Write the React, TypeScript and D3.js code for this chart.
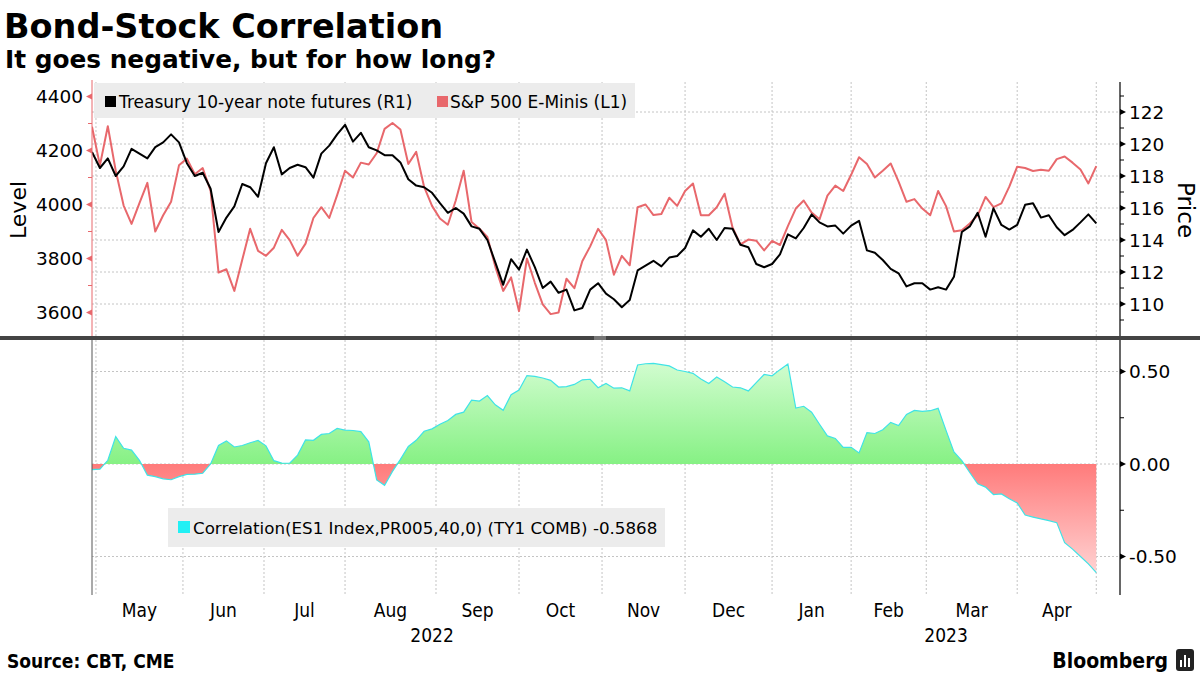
import React from "react";
import * as d3 from "d3";

// ---- data (one value every 2 trading days, starting end of April 2022) ----
const dayStep = 2;

const spxLevels = [
  4288, 4145, 4290, 4125, 3996, 3928, 4005, 4080, 3900, 3960,
  4010, 4145, 4170, 4112, 4135, 4050, 3748, 3760, 3680, 3795,
  3910, 3828, 3810, 3840, 3906, 3868, 3810, 3855, 3950, 3990,
  3950, 4035, 4125, 4100, 4155, 4148, 4190, 4280, 4302, 4278,
  4150, 4195, 4065, 3995, 3948, 3925, 4015, 4125, 3935, 3910,
  3880, 3770, 3680, 3730, 3605, 3800, 3710, 3630, 3594, 3600,
  3725, 3690, 3790, 3845, 3910, 3868, 3740, 3810, 3775, 3990,
  4000, 3961, 3965, 4025, 3995, 4050, 4078, 3960, 3960, 3990,
  4040, 3915, 3852, 3870, 3866, 3830, 3865, 3850, 3920, 3985,
  4015, 3970, 3945, 4033, 4070, 4050, 4110, 4175, 4150, 4100,
  4125, 4152, 4085, 4010, 4020, 3985, 3960, 4050, 3994, 3900,
  3905, 3930, 3960, 4028, 3990, 4004, 4066, 4140, 4135, 4124,
  4129, 4125, 4168, 4178, 4155, 4130, 4078, 4142,
];

const tyPrices = [
  119.5, 118.5, 119.1, 118.0, 118.6, 119.7, 119.4, 119.1, 119.8, 120.1,
  120.6, 120.1, 118.8, 118.0, 118.2, 117.2, 114.5, 115.4, 116.1, 117.5,
  117.3, 116.7, 118.8, 119.8, 118.1, 118.5, 118.7, 118.55, 117.9, 119.4,
  119.9, 120.6, 121.2, 120.15, 120.7, 119.8, 119.6, 119.3, 119.3, 118.85,
  117.8, 117.4, 117.3, 116.95, 116.3, 115.7, 116.0, 115.65, 114.85, 114.7,
  114.0, 112.6, 111.2, 112.8, 112.15, 113.4, 112.3, 111.0, 111.4, 110.7,
  110.9, 109.6, 109.75, 110.9, 111.3, 110.65, 110.3, 109.8, 110.25, 112.1,
  112.4, 112.7, 112.35, 112.9, 113.0, 113.5, 114.6, 114.2, 114.7, 114.0,
  114.75, 114.7, 113.7, 113.55, 112.5, 112.3, 112.5, 113.1, 114.35, 114.1,
  114.75, 115.6, 115.1, 114.85, 114.9, 114.4, 114.9, 115.2, 113.35, 113.2,
  112.75, 112.2, 111.92, 111.1, 111.3, 111.3, 110.9, 111.05, 110.9, 111.7,
  114.5, 114.85, 115.7, 114.2, 115.98, 114.94, 114.65, 114.95, 116.2, 116.3,
  115.4, 115.55, 114.8, 114.3, 114.63, 115.1, 115.6, 115.04,
];

const correlation = [
  -0.03, -0.028, 0.02, 0.148, 0.085, 0.075, 0.02, -0.06, -0.068, -0.08,
  -0.085, -0.068, -0.056, -0.055, -0.05, 0.0, 0.1, 0.125, 0.092, 0.1,
  0.115, 0.127, 0.098, 0.018, 0.005, 0.004, 0.048, 0.13, 0.128, 0.16,
  0.165, 0.192, 0.183, 0.181, 0.175, 0.12, -0.086, -0.115, -0.04, 0.025,
  0.095, 0.128, 0.177, 0.19, 0.215, 0.235, 0.268, 0.28, 0.345, 0.34,
  0.37, 0.32, 0.29, 0.375, 0.4, 0.478, 0.474, 0.465, 0.452, 0.416,
  0.418, 0.43, 0.455, 0.458, 0.412, 0.435, 0.41, 0.412, 0.395, 0.535,
  0.542, 0.544, 0.537, 0.53, 0.508, 0.5, 0.49, 0.46, 0.435, 0.47,
  0.444, 0.416, 0.412, 0.395, 0.44, 0.484, 0.477, 0.51, 0.54, 0.302,
  0.312, 0.28, 0.215, 0.152, 0.138, 0.09, 0.09, 0.06, 0.17, 0.165,
  0.185, 0.225, 0.208, 0.268, 0.29, 0.285, 0.288, 0.301, 0.182, 0.065,
  0.018, -0.046, -0.107, -0.125, -0.165, -0.162, -0.188, -0.21, -0.276, -0.287,
  -0.297, -0.306, -0.317, -0.425, -0.46, -0.5, -0.54, -0.5868,
];

const monthLabels = ["May", "Jun", "Jul", "Aug", "Sep", "Oct", "Nov", "Dec", "Jan", "Feb", "Mar", "Apr"];
const monthStartDays = [1, 23, 43.5, 64, 87, 108, 129, 150, 172, 192, 211, 234, 254];
const yearLabels = ["2022", "2023"];
const yearSpans = [[0, 172], [172, 260]];

const levelTicks = [3600, 3800, 4000, 4200, 4400];
const levelMinor = [3500, 3700, 3900, 4100, 4300];
const priceTicks = [110, 112, 114, 116, 118, 120, 122];
const priceMinor = [109, 111, 113, 115, 117, 119, 121, 123];
const corrTicks = [-0.5, 0, 0.5];
const corrMinor = [-0.25, 0.25];

const legendTop = ["Treasury 10-year note futures (R1)", "S&P 500 E-Minis (L1)"];
const legendBottom = "Correlation(ES1 Index,PR005,40,0) (TY1 COMB) -0.5868";

const FONT = "'DejaVu Sans', Verdana, sans-serif";
const COND = "'DejaVu Sans Condensed', 'DejaVu Sans', sans-serif";
const RED = "#e8686c";

export default function App() {
  const W = 1200;
  const H = 675;
  const L = 92;
  const R = 1120;
  const topT = 82;
  const topB = 336;
  const botT = 340;
  const botB = 595;

  const x = d3.scaleLinear().domain([0, 260]).range([L, R]);
  const yL = d3.scaleLinear().domain([3600, 4400]).range([312.5, 96.5]);
  const yR = d3.scaleLinear().domain([110, 122]).range([304, 112]);
  const yC = d3.scaleLinear().domain([-0.5, 0.5]).range([556.5, 371.5]);

  const spxLine = d3.line<number>().x((_, i) => x(i * dayStep)).y((d) => yL(d))(spxLevels) || "";
  const tyLine = d3.line<number>().x((_, i) => x(i * dayStep)).y((d) => yR(d))(tyPrices) || "";
  const corrLine = d3.line<number>().x((_, i) => x(i * dayStep)).y((d) => yC(d))(correlation) || "";
  const corrArea =
    d3.area<number>().x((_, i) => x(i * dayStep)).y0(yC(0)).y1((d) => yC(d))(correlation) || "";

  const gridDash = "2,2";
  const gridColor = "#c4c4c4";

  return (
    <svg
      width={W}
      height={H}
      viewBox={`0 0 ${W} ${H}`}
      style={{ position: "absolute", left: 0, top: 0, background: "#fff" }}
      fontFamily={FONT}
    >
      <defs>
        <clipPath id="topClip">
          <rect x={L} y={topT} width={R - L} height={topB - topT} />
        </clipPath>
        <clipPath id="posClip">
          <rect x={L} y={botT} width={R - L} height={yC(0) - botT} />
        </clipPath>
        <clipPath id="negClip">
          <rect x={L} y={yC(0)} width={R - L} height={botB - yC(0)} />
        </clipPath>
        <linearGradient id="greenGrad" gradientUnits="userSpaceOnUse" x1="0" x2="0" y1={yC(0.58)} y2={yC(0)}>
          <stop offset="0" stopColor="#d6fdd4" />
          <stop offset="1" stopColor="#86f184" />
        </linearGradient>
        <linearGradient id="redGrad" gradientUnits="userSpaceOnUse" x1="0" x2="0" y1={yC(0)} y2={yC(-0.6)}>
          <stop offset="0" stopColor="#ff7b7b" />
          <stop offset="1" stopColor="#ffd4d4" />
        </linearGradient>
      </defs>

      {/* Title */}
      <text x={4} y={38} fontSize={33.5} fontWeight="bold" fill="#000">
        Bond-Stock Correlation
      </text>
      <text x={5} y={68} fontSize={24.8} fontWeight="bold" fill="#000">
        It goes negative, but for how long?
      </text>

      {/* vertical grid lines */}
      {monthStartDays.map((d, i) => (
        <g key={"vg" + i}>
          <line x1={x(d)} x2={x(d)} y1={topT} y2={topB} stroke={gridColor} strokeDasharray={gridDash} />
          <line x1={x(d)} x2={x(d)} y1={botT} y2={botB} stroke={gridColor} strokeDasharray={gridDash} />
        </g>
      ))}
      {/* horizontal grid - top */}
      {priceTicks.map((t) => (
        <line key={"hg" + t} x1={L} x2={R} y1={yR(t)} y2={yR(t)} stroke={gridColor} strokeDasharray={gridDash} />
      ))}
      {/* horizontal grid - bottom */}
      {corrTicks.map((t) => (
        <line key={"cg" + t} x1={L} x2={R} y1={yC(t)} y2={yC(t)} stroke={gridColor} strokeDasharray={gridDash} />
      ))}

      {/* top legend */}
      <rect x={94} y={83} width={541} height={35} fill="#ececec" />
      <rect x={105} y={96} width={11} height={11} fill="#000" />
      <text x={119} y={107.5} fontSize={17} fill="#000">
        {legendTop[0]}
      </text>
      <rect x={437} y={96} width={11} height={11} fill={RED} />
      <text x={450} y={107.5} fontSize={17} fill="#000">
        {legendTop[1]}
      </text>

      {/* top lines */}
      <g clipPath="url(#topClip)">
        <path d={spxLine} fill="none" stroke={RED} strokeWidth={2} strokeLinejoin="round" />
        <path d={tyLine} fill="none" stroke="#000" strokeWidth={2} strokeLinejoin="round" />
      </g>

      {/* correlation area */}
      <path d={corrArea} fill="url(#greenGrad)" clipPath="url(#posClip)" />
      <path d={corrArea} fill="url(#redGrad)" clipPath="url(#negClip)" />
      <path d={corrLine} fill="none" stroke="#3fe3e6" strokeWidth={1.2} />

      {/* bottom legend */}
      <rect x={168} y={508} width={497} height={39} fill="#ececec" />
      <rect x={178} y={521} width={12} height={12} fill="#22f0f4" />
      <text x={193} y={534} fontSize={16.7} fill="#000">
        {legendBottom}
      </text>

      {/* left axis (top panel) */}
      <line x1={L} x2={L} y1={topT - 2} y2={topB} stroke={RED} strokeWidth={1} />
      {levelTicks.map((t) => (
        <g key={"lt" + t}>
          <path d={`M${L},${yL(t) - 3}L${L - 6},${yL(t)}L${L},${yL(t) + 3}Z`} fill={RED} />
          <text x={83} y={yL(t)} dy="0.36em" textAnchor="end" fontSize={18.5} fill="#000">
            {t}
          </text>
        </g>
      ))}
      {levelMinor.map((t) => (
        <line key={"lm" + t} x1={L - 4} x2={L} y1={yL(t)} y2={yL(t)} stroke={RED} />
      ))}
      <text transform={`translate(26,${210}) rotate(-90)`} textAnchor="middle" fontSize={22} fill="#000">
        Level
      </text>

      {/* right axis (top panel) */}
      <line x1={R} x2={R} y1={topT} y2={topB} stroke="#000" strokeWidth={1.2} />
      {priceTicks.map((t) => (
        <g key={"rt" + t}>
          <path d={`M${R},${yR(t) - 3}L${R + 6},${yR(t)}L${R},${yR(t) + 3}Z`} fill="#000" />
          <text x={1129} y={yR(t)} dy="0.36em" fontSize={18.5} fill="#000">
            {t}
          </text>
        </g>
      ))}
      {priceMinor.map((t) => (
        <line key={"rm" + t} x1={R} x2={R + 4} y1={yR(t)} y2={yR(t)} stroke="#000" />
      ))}
      <text transform={`translate(1178,${210}) rotate(90)`} textAnchor="middle" fontSize={23} fill="#000">
        Price
      </text>

      {/* bottom panel axes */}
      <line x1={L} x2={L} y1={botT} y2={botB} stroke="#555" strokeWidth={1} />
      <line x1={R} x2={R} y1={botT} y2={botB} stroke="#000" strokeWidth={1.2} />
      {corrTicks.map((t) => (
        <g key={"ct" + t}>
          <path d={`M${R},${yC(t) - 3}L${R + 6},${yC(t)}L${R},${yC(t) + 3}Z`} fill="#000" />
          <text x={1129} y={yC(t)} dy="0.36em" fontSize={18.5} fill="#000">
            {t === 0 ? "0.00" : t > 0 ? t.toFixed(2) : "-" + Math.abs(t).toFixed(2)}
          </text>
        </g>
      ))}
      {corrMinor.map((t) => (
        <line key={"cm" + t} x1={R} x2={R + 4} y1={yC(t)} y2={yC(t)} stroke="#000" />
      ))}

      {/* panel separator */}
      <rect x={0} y={336} width={W} height={4} fill="#444" />
      <line x1={594} x2={606} y1={337} y2={337} stroke="#aaa" />
      <line x1={594} x2={606} y1={339} y2={339} stroke="#aaa" />

      {/* x axis labels */}
      {monthLabels.map((m, i) => (
        <text
          key={"ml" + m}
          x={(x(monthStartDays[i]) + x(monthStartDays[i + 1])) / 2}
          y={617}
          textAnchor="middle"
          fontSize={19}
          fontFamily={COND}
          fill="#000"
        >
          {m}
        </text>
      ))}
      {yearLabels.map((yl, i) => (
        <text
          key={"yl" + yl}
          x={(x(yearSpans[i][0]) + x(yearSpans[i][1])) / 2}
          y={642}
          textAnchor="middle"
          fontSize={19}
          fontFamily={COND}
          fill="#000"
        >
          {yl}
        </text>
      ))}

      {/* footer */}
      <text x={7} y={668} fontSize={19} fontWeight="bold" fill="#000" fontFamily={COND}>
        Source: CBT, CME
      </text>
      <text x={1168} y={668} fontSize={21} fontWeight="bold" textAnchor="end" fill="#000" fontFamily={COND}>
        Bloomberg
      </text>
      <rect x={1176} y={649} width={18} height={22} rx={3} fill="#222" />
      <rect x={1180} y={660} width={2} height={7} fill="#fff" />
      <rect x={1184} y={655} width={2} height={12} fill="#fff" />
      <rect x={1188} y={658} width={2} height={9} fill="#fff" />
    </svg>
  );
}
